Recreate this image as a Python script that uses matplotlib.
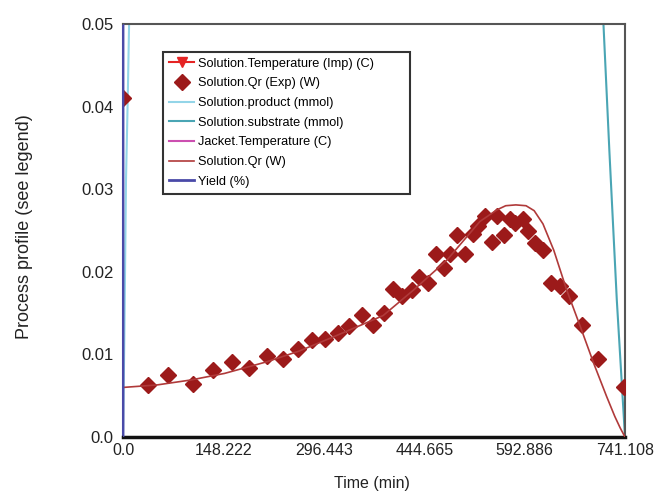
import matplotlib
matplotlib.use("Agg")
import matplotlib.pyplot as plt

plt.rcParams['font.family'] = ['Liberation Sans', 'DejaVu Sans']

# ---- data ----
qr_exp_t = [0.0, 37.4, 66.9, 102.9, 133.3, 160.4, 186.5, 212.1, 236.7, 257.9, 278.6, 298.2,
            317.9, 334.1, 352.4, 368.6, 385.3, 398.2, 411.4, 426.2, 437.5, 450.8, 462.1,
            473.9, 482.8, 493.6, 505.4, 516.3, 524.6, 534.5, 544.4, 552.7, 562.5, 571.4,
            578.8, 591.1, 598.5, 608.4, 620.7, 631.6, 645.4, 659.1, 677.4, 701.9, 739.7]
qr_exp_v = [0.0410, 0.0063, 0.0075, 0.0064, 0.0081, 0.0091, 0.0084, 0.0098, 0.0094, 0.0106,
            0.0118, 0.0119, 0.0126, 0.0134, 0.0148, 0.0136, 0.0150, 0.0179, 0.0171, 0.0178,
            0.0194, 0.0187, 0.0222, 0.0205, 0.0221, 0.0245, 0.0222, 0.0246, 0.0255, 0.0267,
            0.0236, 0.0267, 0.0245, 0.0264, 0.0259, 0.0264, 0.0250, 0.0235, 0.0226, 0.0187,
            0.0183, 0.0171, 0.0136, 0.0094, 0.0060]

qr_t = [0, 50, 100, 150, 212, 260, 310, 350, 384, 429, 478, 527, 552, 565, 580, 595, 607,
        620, 636, 655, 675, 695, 714, 726, 734, 741.108]
qr_v = [0.0060, 0.0063, 0.0069, 0.0077, 0.0091, 0.0104, 0.0121, 0.0135, 0.0147, 0.0178,
        0.0214, 0.0261, 0.0275, 0.0280, 0.0281, 0.0280, 0.0274, 0.0258, 0.0226, 0.0178,
        0.0134, 0.0089, 0.0049, 0.0025, 0.0011, 0.0]

product_t = [0.0, 2.0, 4.4, 7.0, 9.0, 9.5]
product_v = [0.0, 0.012, 0.031, 0.041, 0.050, 0.060]

substrate_t = [705.0, 709.3, 718.0, 729.0, 741.108]
substrate_v = [0.060, 0.050, 0.0347, 0.0166, 0.0]

yield_t = [0.0, 0.2]
yield_v = [0.0, 5.0]

temp_imp_t, temp_imp_v = [], []
jacket_t, jacket_v = [], []

x_ticks = [0.0, 148.222, 296.443, 444.665, 592.886, 741.108]
x_labels = ['0.0', '148.222', '296.443', '444.665', '592.886', '741.108']
y_ticks = [0.0, 0.01, 0.02, 0.03, 0.04, 0.05]
y_labels = ['0.0', '0.01', '0.02', '0.03', '0.04', '0.05']

# ---- figure ----
fig = plt.figure(figsize=(6.58, 4.95), dpi=100)
ax = fig.add_axes([123/658, 58/495, 502/658, 413/495])

c_dark_red = '#9c1a1a'
ax.plot(temp_imp_t, temp_imp_v, color='#e52424', marker='v', ms=7, lw=1.5,
        label='Solution.Temperature (Imp) (C)')
ax.plot(qr_exp_t, qr_exp_v, ls='none', marker='D', ms=8, color=c_dark_red,
        mec=c_dark_red, label='Solution.Qr (Exp) (W)', zorder=3)
ax.plot(product_t, product_v, color='#93d5e8', lw=1.5, label='Solution.product (mmol)')
ax.plot(substrate_t, substrate_v, color='#4aa5b4', lw=1.5, label='Solution.substrate (mmol)')
ax.plot(jacket_t, jacket_v, color='#cc4fb0', lw=1.5, label='Jacket.Temperature (C)')
ax.plot(qr_t, qr_v, color='#b03a3a', lw=1.2, label='Solution.Qr (W)', zorder=4)
ax.plot(yield_t, yield_v, color='#4a4aa8', lw=2, label='Yield (%)', zorder=5)

ax.set_xlim(0, 741.108)
ax.set_ylim(0, 0.05)
ax.set_xticks(x_ticks)
ax.set_xticklabels(x_labels)
ax.set_yticks(y_ticks)
ax.set_yticklabels(y_labels)
ax.tick_params(length=0, labelsize=11.5, colors='#222222')
ax.tick_params(axis='y', pad=7, labelsize=12)
ax.tick_params(axis='x', pad=4)
ax.set_xlabel('Time (min)', fontsize=11.5, color='#222222')
ax.xaxis.set_label_coords(0.496, -0.095)
ax.set_ylabel('Process profile (see legend)', fontsize=13, color='#222222')
ax.yaxis.set_label_coords(-0.18, 0.51)

for s in ['top', 'right']:
    ax.spines[s].set_color('#555555')
    ax.spines[s].set_linewidth(1.5)
ax.spines['bottom'].set_color('#111111')
ax.spines['bottom'].set_linewidth(2.5)
ax.spines['left'].set_color('#4a4aa8')
ax.spines['left'].set_linewidth(1.5)

leg = ax.legend(loc='upper left', bbox_to_anchor=(40/502, (437-52)/413, 247/502, 0.0),
                mode='expand', fontsize=9.2, frameon=True, fancybox=False,
                framealpha=1, edgecolor='#333333', handlelength=2.0,
                labelspacing=0.6, borderpad=0.45, handletextpad=0.3, borderaxespad=0)
leg.get_frame().set_linewidth(1.5)

fig.savefig('out.png', dpi=100)
